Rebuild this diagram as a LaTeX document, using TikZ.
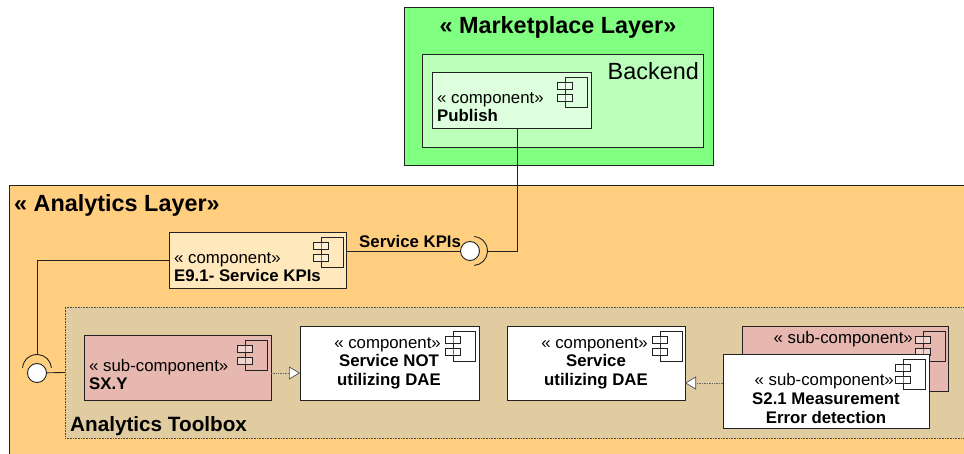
\documentclass[tikz,border=0pt]{standalone}
\usepackage{fontspec}
\setmainfont{Liberation Sans}
\usetikzlibrary{arrows.meta}
\definecolor{marketgreen}{HTML}{80FF80}
\definecolor{backendgreen}{HTML}{BBFFBB}
\definecolor{publishgreen}{HTML}{DDFFDD}
\definecolor{analyticsorange}{HTML}{FFCF7F}
\definecolor{kpiorange}{HTML}{FFE8BB}
\definecolor{toolboxtan}{HTML}{E0CCA0}
\definecolor{subred}{HTML}{E6B8AF}
\definecolor{linegray}{HTML}{222222}
\tikzstyle{box}=[draw=linegray, line width=0.9pt, inner sep=0, outer sep=0, anchor=north west]
\tikzstyle{subbox}=[box, fill=subred]
\tikzstyle{whitebox}=[box, fill=white]
\tikzstyle{stereotype}=[font=\fontsize{16.8}{18.6}\selectfont, inner sep=0, anchor=base east]
\tikzstyle{stereotypeleft}=[stereotype, anchor=base west]
\tikzstyle{compname}=[font=\fontsize{16.8}{18.6}\selectfont\bfseries, inner sep=0, align=center, anchor=base]
\tikzstyle{compnameleft}=[font=\fontsize{16.8}{18.6}\selectfont\bfseries, inner sep=0, anchor=base west]
\tikzstyle{layername}=[font=\fontsize{23.4}{26}\selectfont\bfseries, inner sep=0, anchor=base west]
\tikzstyle{ball}=[circle, draw=linegray, fill=white, line width=0.9pt, minimum size=19pt, inner sep=0, outer sep=0]
\tikzstyle{socket}=[circle, minimum size=29pt, inner sep=0, outer sep=0]
\tikzstyle{wire}=[draw=linegray, line width=0.9pt]
\tikzstyle{realize}=[draw=black!60, line width=0.7pt, densely dotted,
                     -{Triangle[length=11pt, width=13pt, color=black!70, fill=white]}]
\tikzset{compicon/.pic={
        \draw[wire] (-22, 0) rectangle (0, 30);
        \draw[wire, fill=white, fill opacity=0.4] (-30, 5) rectangle (-15, 12);
        \draw[wire, fill=white, fill opacity=0.4] (-30, 17) rectangle (-15, 24);
    }}
\begin{document}
\begin{tikzpicture}[x=1pt, y=-1pt]
    \useasboundingbox (0, 0) rectangle (964, 454);
    % Marketplace layer.
    \node[box, fill=marketgreen, minimum width=309pt, minimum height=158pt] (market) at (404, 7) {};
    \node[box, fill=backendgreen, minimum width=281pt, minimum height=93pt] (backend) at (422, 54) {};
    \node[box, fill=publishgreen, minimum width=159pt, minimum height=56pt] (publish) at (432, 72) {};
    \node[layername, anchor=base] (markettitle) at (558, 34) {« Marketplace Layer»};
    \node[font=\fontsize{23.4}{26}\selectfont, inner sep=0, anchor=base east] (backendtitle) at (699, 80) {Backend};
    \node[stereotypeleft] (publishtype) at (437, 103.5) {« component»};
    \node[compnameleft] (publishname) at (437, 122) {Publish};
    \pic at (587, 77) {compicon};
    % Analytics layer.
    \node[box, fill=analyticsorange, minimum width=970pt, minimum height=280pt] (analytics) at (9, 185) {};
    \node[layername] (analyticstitle) at (14, 212) {« Analytics Layer»};
    \node[box, fill=kpiorange, minimum width=177pt, minimum height=56pt] (kpi) at (169, 232) {};
    \node[stereotypeleft] (kpitype) at (174, 263.5) {« component»};
    \node[compnameleft] (kpiname) at (174, 282) {E9.1- Service KPIs};
    \pic at (343, 237) {compicon};
    % Toolbox and its content.
    \node[box, fill=toolboxtan, draw=black!70, line width=0.6pt, densely dotted, minimum width=910pt, minimum height=131pt] (toolbox) at (65, 307) {};
    \node[layername, font=\fontsize{20.7}{24}\selectfont\bfseries] (toolboxtitle) at (70, 431) {Analytics Toolbox};
    \node[subbox, minimum width=187pt, minimum height=65pt] (sxy) at (84, 335) {};
    \node[stereotypeleft] (sxytype) at (89, 371.5) {« sub-component»};
    \node[compnameleft] (sxyname) at (89, 389.5) {SX.Y};
    \pic at (267, 340) {compicon};
    \node[whitebox, minimum width=179pt, minimum height=74pt] (notdae) at (300, 326) {};
    \node[stereotype] (notdaetype) at (441, 348.5) {« component»};
    \node[compname] (notdaename) at (389, 385) {Service NOT\\utilizing DAE};
    \pic at (475, 331) {compicon};
    \node[whitebox, minimum width=178pt, minimum height=74pt] (dae) at (507, 326) {};
    \node[stereotype] (daetype) at (648, 348.5) {« component»};
    \node[compname] (daename) at (596, 385) {Service\\utilizing DAE};
    \pic at (682, 331) {compicon};
    \node[subbox, minimum width=206pt, minimum height=65pt] (errorback) at (742, 326) {};
    \node[stereotype] (errorbacktype) at (913, 344) {« sub-component»};
    \pic at (945, 331) {compicon};
    \node[whitebox, minimum width=206pt, minimum height=74pt] (error) at (723, 354) {};
    \node[stereotype] (errortype) at (894, 385) {« sub-component»};
    \node[compname] (errorname) at (826, 423) {S2.1 Measurement\\Error detection};
    \pic at (925, 359) {compicon};
    % Interfaces.
    \node[ball] (kpiball) at (470, 251) {};
    \node[socket] (kpisocket) at (473, 251) {};
    \node[ball] (toolball) at (37, 373) {};
    \node[socket] (toolsocket) at (37, 369) {};
    \draw[wire] (kpisocket.85) arc[start angle=85, end angle=-85, radius=14.5pt];
    \draw[wire] (toolsocket.175) arc[start angle=175, end angle=5, radius=14.5pt];
    \node[compnameleft] (kpilabel) at (359, 248) {Service KPIs};
    % Connectors.
    \draw[wire] ([yshift=9pt]kpi.east) -- (kpiball);
    \draw[wire] (kpisocket.east) -| ([xshift=5.5pt]publish.south);
    \draw[wire] (kpi.west) -| (toolsocket.north);
    \draw[wire] (toolball) -- (toolbox.west);
    \draw[realize] ([yshift=-5.5pt]sxy.east) -- ([yshift=-10pt]notdae.west);
    \draw[realize] ([yshift=8pt]error.west) -- ([yshift=-20pt]dae.east);
\end{tikzpicture}
\end{document}
